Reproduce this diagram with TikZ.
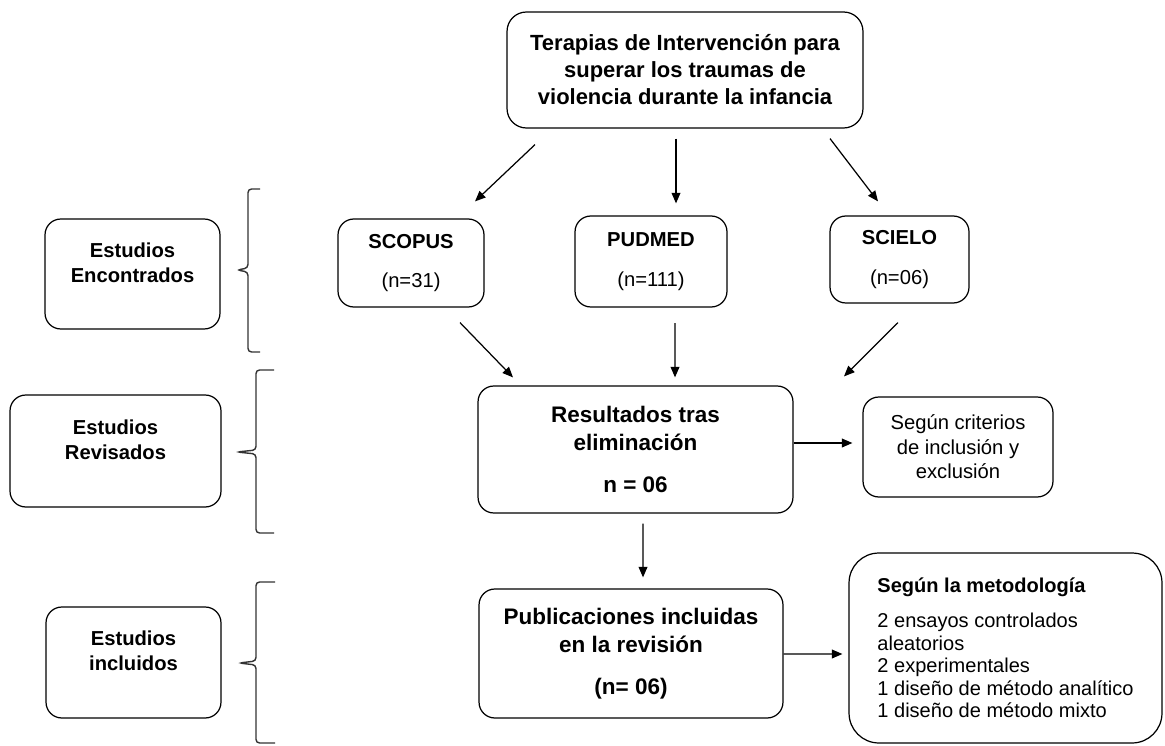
\documentclass[tikz,border=0pt]{standalone}
\usepackage{fontspec}
\setmainfont{Liberation Sans}
\usetikzlibrary{arrows.meta}

\begin{document}
\begin{tikzpicture}[x=0.02cm,y=-0.02cm,
    box/.style={draw,line width=0.7pt,rounded corners=9pt,inner sep=0pt,align=center},
    base/.style={box,font=\fontsize{11.5}{13.5}\selectfont},
    main/.style={box,font=\fontsize{12.8}{16}\selectfont\bfseries},
    stage/.style={box,font=\fontsize{11.5}{14.2}\selectfont\bfseries,text depth=13pt},
    arr/.style={-{Triangle[length=6pt,width=5pt]},line width=0.7pt},
    brace/.style={line width=0.8pt,rounded corners=2pt,black!80}]
    \useasboundingbox (0,0) rectangle (1165,746);

    % title
    \node[box,rounded corners=11pt,minimum width=7.12cm,minimum height=2.32cm,
        font=\fontsize{12.5}{15.4}\selectfont\bfseries] (title) at (685,70)
        {Terapias de Intervención para\\ superar los traumas de\\ violencia durante la infancia};

    % databases
    \node[base,minimum width=2.92cm,minimum height=1.76cm] (scopus) at (411,263)
        {\textbf{SCOPUS}\\[9pt] (n=31)};
    \node[base,minimum width=3.04cm,minimum height=1.82cm] (pudmed) at (651,261.5)
        {\textbf{PUDMED}\\[9pt] (n=111)};
    \node[base,minimum width=2.78cm,minimum height=1.74cm] (scielo) at (899.5,259.5)
        {\textbf{SCIELO}\\[9pt] (n=06)};

    \node[main,minimum width=6.30cm,minimum height=2.54cm] (result) at (635.5,449.5)
        {Resultados tras\\ eliminación\\[8pt] n = 06};
    \node[base,font=\fontsize{11.5}{14}\selectfont,minimum width=3.80cm,minimum height=2.00cm] (criteria) at (958,447)
        {Según criterios\\ de inclusión y\\ exclusión};

    \node[main,minimum width=6.08cm,minimum height=2.58cm] (publ) at (631,653.5)
        {Publicaciones incluidas\\ en la revisión\\[8pt] (n= 06)};
    \node[box,rounded corners=17pt,align=left,font=\fontsize{11.4}{12.8}\selectfont,
        minimum width=6.26cm,minimum height=3.80cm] (method) at (1005.5,648)
        {\textbf{Según la metodología}\\[7pt]
         2 ensayos controlados\\ aleatorios\\ 2 experimentales\\
         1 diseño de método analítico\\ 1 diseño de método mixto};

    % stages on the left
    \node[stage,minimum width=3.50cm,minimum height=2.20cm] (found) at (132.5,274) {Estudios\\ Encontrados};
    \node[stage,minimum width=4.22cm,minimum height=2.24cm] (revised) at (115.5,451) {Estudios\\ Revisados};
    \node[stage,minimum width=3.50cm,minimum height=2.22cm] (included) at (133.5,662.5) {Estudios\\ incluidos};

    \draw[brace] (260,189) -- (248,189) -- (248,268) -- (237,270) -- (248,272) -- (248,352) -- (260,352);
    \draw[brace] (274,370) -- (256,370) -- (256,450) -- (237,452) -- (256,454) -- (256,533) -- (274,533);
    \draw[brace] (275,582) -- (256,582) -- (256,661) -- (239,663) -- (256,665) -- (256,743) -- (275,743);

    % arrows
    \draw[arr] ([shift={(-150,16)}]title.south) -- ([shift={(64,-17)}]scopus.north);
    \draw[arr] ([shift={(-9,10)}]title.south) -- ([shift={(25,-12)}]pudmed.north);
    \draw[arr] ([shift={(145,10)}]title.south) -- ([shift={(-21.5,-14)}]scielo.north);
    \draw[arr] ([shift={(49,15)}]scopus.south) -- ([shift={(-122.5,-8)}]result.north);
    \draw[arr] ([shift={(24,15.5)}]pudmed.south) -- ([shift={(39.5,-8)}]result.north);
    \draw[arr] ([shift={(-1.5,19)}]scielo.south) -- ([shift={(208.5,-9)}]result.north);
    \draw[arr] ([shift={(0,-6.5)}]result.east) -- ([shift={(-10,-4)}]criteria.west);
    \draw[arr] ([shift={(7.5,10)}]result.south) -- ([shift={(12,-11)}]publ.north);
    \draw[arr] ([shift={(0,0.5)}]publ.east) -- ([shift={(-6,6)}]method.west);
\end{tikzpicture}
\end{document}
